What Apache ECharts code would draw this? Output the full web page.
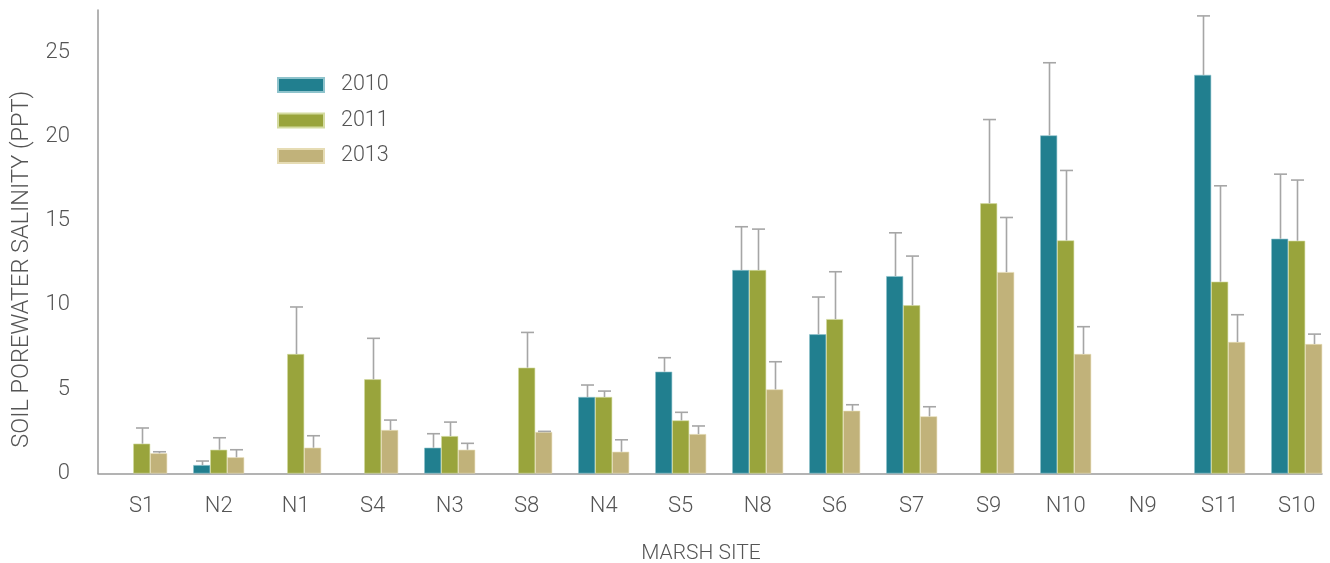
<!DOCTYPE html>
<html>
<head>
<meta charset="utf-8">
<script src="https://cdn.jsdelivr.net/npm/echarts@6/dist/echarts.min.js"></script>
<style>html,body{margin:0;padding:0;background:#fff}#c{width:1330px;height:563px}</style>
</head>
<body>
<div id="c"></div>
<script>
const sites = ['S1','N2','N1','S4','N3','S8','N4','S5','N8','S6','S7','S9','N10','N9','S11','S10'];
const years = ['2010','2011','2013'];
const mean2010  = [null, 0.50, null, null, 1.53, null, 4.54, 6.04, 12.07, 8.26, 11.71, null, 20.06, null, 23.65, 13.93];
const upper2010 = [null, 0.74, null, null, 2.36, null, 5.25, 6.87, 14.64, 10.47, 14.28, null, 24.37, null, 27.15, 17.76];
const mean2011  = [1.77, 1.41, 7.09, 5.59, 2.22, 6.28, 4.54, 3.15, 12.07, 9.16, 9.98, 16.03, 13.83, null, 11.38, 13.81];
const upper2011 = [2.70, 2.12, 9.88, 8.02, 3.05, 8.37, 4.89, 3.63, 14.50, 11.97, 12.90, 21.00, 17.98, null, 17.07, 17.41];
const mean2013  = [1.20, 0.96, 1.53, 2.58, 1.41, 2.46, 1.29, 2.34, 4.99, 3.72, 3.39, 11.95, 7.09, null, 7.80, 7.68];
const upper2013 = [1.29, 1.41, 2.24, 3.17, 1.79, 2.50, 2.00, 2.82, 6.63, 4.08, 3.96, 15.19, 8.71, null, 9.42, 8.27];
const yTicks = {min: 0, max: 27.5, interval: 5};

const means = [mean2010, mean2011, mean2013];
const uppers = [upper2010, upper2011, upper2013];
const colors = ['#217F8F', '#99A43C', '#C1B27A'];
const borders = ['#8fc3cc', '#d4dba0', '#e6dcb4'];
const FONT = 'Roboto, "Helvetica Neue", Arial, sans-serif';
const TXT = '#555555';
const BW = 17;

const chart = echarts.init(document.getElementById('c'), null, {renderer: 'canvas'});

const barSeries = years.map((y, k) => ({
  name: y, type: 'bar', xAxisIndex: 0, yAxisIndex: 0,
  barWidth: BW, barGap: '0%',
  data: means[k].map(v => v == null ? '-' : v),
  itemStyle: {color: colors[k], borderColor: borders[k], borderWidth: 0.6},
  emphasis: {disabled: true}, z: 2
}));

const errSeries = years.map((y, k) => ({
  type: 'custom', xAxisIndex: 0, yAxisIndex: 0, silent: true, z: 3,
  encode: {x: 0, y: [1, 2]},
  data: means[k].map((m, i) => m == null ? null : [i, m, uppers[k][i]]).filter(d => d),
  renderItem: (params, api) => {
    const i = api.value(0);
    const p0 = api.coord([i, api.value(1)]);
    const p1 = api.coord([i, api.value(2)]);
    const x = Math.round(p0[0] + (k - 1) * BW) + 0.5;
    const st = {stroke: '#a6a6a6', lineWidth: 1.6};
    return {type: 'group', children: [
      {type: 'line', shape: {x1: x, y1: p0[1], x2: x, y2: p1[1]}, style: st},
      {type: 'line', shape: {x1: x - 6.5, y1: p1[1], x2: x + 6.5, y2: p1[1]}, style: st}
    ]};
  }
}));

chart.setOption({
  animation: false,
  backgroundColor: '#ffffff',
  textStyle: {fontFamily: FONT, fontWeight: 300},
  legend: {
    data: years, orient: 'vertical', left: 272, top: 69,
    itemWidth: 46, itemHeight: 14, itemGap: 13.5, icon: 'rect',
    textStyle: {fontSize: 21.5, color: TXT, fontFamily: FONT, fontWeight: 300, padding: [0, 0, 0, 12]}
  },
  grid: [
    {left: 103.2, right: -5.2, top: 10, bottom: 89.5, containLabel: false, outerBoundsMode: 'none'},
    {left: 98, right: 8, top: 10, bottom: 89.5, containLabel: false, outerBoundsMode: 'none'}
  ],
  xAxis: [
    {type: 'category', gridIndex: 0, data: sites,
     axisLine: {show: false}, axisTick: {show: false},
     axisLabel: {fontSize: 22, color: TXT, margin: 22, fontFamily: FONT, fontWeight: 300}},
    {type: 'value', gridIndex: 1, min: 0, max: 1,
     axisLine: {show: true, lineStyle: {color: '#9a9a9a', width: 1.5}},
     axisTick: {show: false}, axisLabel: {show: false}, splitLine: {show: false},
     name: 'MARSH SITE', nameLocation: 'middle', nameGap: 70,
     nameTextStyle: {fontSize: 21, color: TXT, fontFamily: FONT, fontWeight: 300, padding: [0, 18, 0, 0]}}
  ],
  yAxis: [
    {type: 'value', gridIndex: 0, min: yTicks.min, max: yTicks.max, interval: yTicks.interval, show: false},
    {type: 'value', gridIndex: 1, min: yTicks.min, max: yTicks.max, interval: yTicks.interval,
     axisLine: {show: true, lineStyle: {color: '#9a9a9a', width: 1.5}},
     axisTick: {show: false}, splitLine: {show: false},
     axisLabel: {fontSize: 22, color: TXT, margin: 28, showMaxLabel: false, fontFamily: FONT, fontWeight: 300},
     name: 'SOIL POREWATER SALINITY (PPT)', nameLocation: 'middle', nameGap: 64, nameRotate: 90,
     nameTextStyle: {fontSize: 23.5, color: TXT, fontFamily: FONT, fontWeight: 300, padding: [0, 55, 0, 0]}}
  ],
  series: [...barSeries, ...errSeries]
});
</script>
</body>
</html>
